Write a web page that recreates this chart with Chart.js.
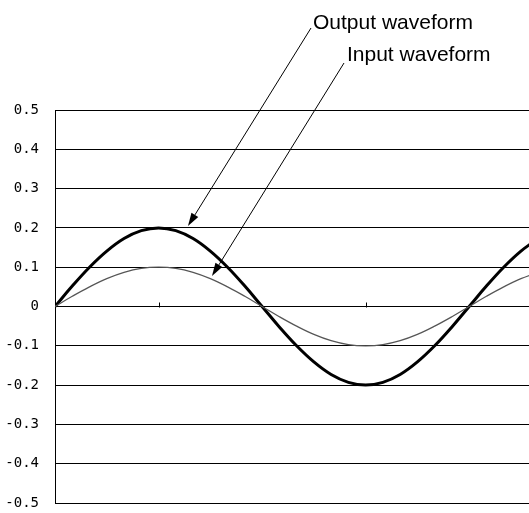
<!DOCTYPE html>
<html>
<head>
<meta charset="utf-8">
<script src="https://cdn.jsdelivr.net/npm/chart.js@4/dist/chart.umd.min.js"></script>
<style>
  html, body { margin: 0; padding: 0; background: #fff; }
  #wrap { width: 529px; height: 513px; }
</style>
</head>
<body>
<div id="wrap"><canvas id="c" width="529" height="513"></canvas></div>
<script>
// Phase (degrees) of each sample along the horizontal axis
const phase = [0, 15, 30, 45, 60, 75, 90, 105, 120, 135, 150, 165, 180, 195, 210, 225, 240, 255, 270, 285, 300, 315, 330, 345, 360, 375, 390, 405, 420];
// Output waveform values
const outputWave = [0, 0.052, 0.1, 0.141, 0.173, 0.193, 0.2, 0.193, 0.173, 0.141, 0.1, 0.052, 0, -0.052, -0.1, -0.141, -0.173, -0.193, -0.2, -0.193, -0.173, -0.141, -0.1, -0.052, 0, 0.052, 0.1, 0.141, 0.173];
// Input waveform values
const inputWave = [0, 0.026, 0.05, 0.071, 0.087, 0.097, 0.1, 0.097, 0.087, 0.071, 0.05, 0.026, 0, -0.026, -0.05, -0.071, -0.087, -0.097, -0.1, -0.097, -0.087, -0.071, -0.05, -0.026, 0, 0.026, 0.05, 0.071, 0.087];
// Tick marks on the horizontal axis (degrees)
const xTickMarks = [90, 270];
// Y axis range / tick labels
const yMin = -0.5, yMax = 0.5, yStep = 0.1;
// Annotation labels
const outputLabel = "Output waveform";
const inputLabel = "Input waveform";

const toXY = (vals) => vals.map((v, i) => ({ x: phase[i], y: v }));

const decorPlugin = {
  id: 'decor',
  afterDatasetsDraw(chart) {
    const ctx = chart.ctx;
    const xs = chart.scales.x, ys = chart.scales.y;
    const y0 = Math.round(ys.getPixelForValue(0)) + 0.5;
    ctx.save();
    ctx.strokeStyle = '#000';
    ctx.lineWidth = 1;
    xTickMarks.forEach(v => {
      const px = Math.round(xs.getPixelForValue(v)) + 0.5;
      ctx.beginPath();
      ctx.moveTo(px, y0);
      ctx.lineTo(px, y0 - 5);
      ctx.stroke();
    });
    ctx.restore();
  },
  afterDraw(chart) {
    const ctx = chart.ctx;
    ctx.save();
    ctx.fillStyle = '#000';
    ctx.font = "21px 'Liberation Sans', Arial, sans-serif";
    ctx.textBaseline = 'alphabetic';
    ctx.fillText(outputLabel, 313, 29);
    ctx.fillText(inputLabel, 347, 61);
    function arrow(x1, y1, x2, y2) {
      ctx.strokeStyle = '#000';
      ctx.lineWidth = 1;
      const ang = Math.atan2(y2 - y1, x2 - x1);
      const len = 13, hw = 4;
      const bx = x2 - len * Math.cos(ang), by = y2 - len * Math.sin(ang);
      ctx.beginPath();
      ctx.moveTo(x1, y1);
      ctx.lineTo(bx, by);
      ctx.stroke();
      ctx.beginPath();
      ctx.moveTo(x2, y2);
      ctx.lineTo(bx + hw * Math.sin(ang), by - hw * Math.cos(ang));
      ctx.lineTo(bx - hw * Math.sin(ang), by + hw * Math.cos(ang));
      ctx.closePath();
      ctx.fill();
    }
    arrow(311, 28, 188, 226);
    arrow(344, 63, 212, 276);
    ctx.restore();
  }
};

new Chart(document.getElementById('c'), {
  type: 'line',
  data: {
    datasets: [
      {
        label: inputLabel,
        data: toXY(inputWave),
        borderColor: '#555',
        borderWidth: 1.2,
        pointRadius: 0,
        tension: 0.4,
        fill: false
      },
      {
        label: outputLabel,
        data: toXY(outputWave),
        borderColor: '#000',
        borderWidth: 3,
        pointRadius: 0,
        tension: 0.4,
        fill: false
      }
    ]
  },
  options: {
    responsive: false,
    animation: false,
    devicePixelRatio: 1,
    layout: { padding: { top: 110, bottom: 10, left: 0, right: 0 } },
    plugins: { legend: { display: false }, tooltip: { enabled: false } },
    scales: {
      x: {
        type: 'linear',
        min: 0,
        max: 412,
        display: false
      },
      y: {
        min: yMin,
        max: yMax,
        afterFit(scale) { scale.width = 55; scale.paddingTop = 0; scale.paddingBottom = 0; },
        border: { display: true, color: '#000', width: 1 },
        grid: { color: '#000', lineWidth: 1, drawTicks: false },
        ticks: {
          stepSize: yStep,
          padding: 16,
          color: '#000',
          font: { family: "'DejaVu Sans Mono', monospace", size: 14 },
          callback: (v) => (Math.abs(v) < 1e-9 ? '0' : Number(v).toFixed(1))
        }
      }
    }
  },
  plugins: [decorPlugin]
});
</script>
</body>
</html>
